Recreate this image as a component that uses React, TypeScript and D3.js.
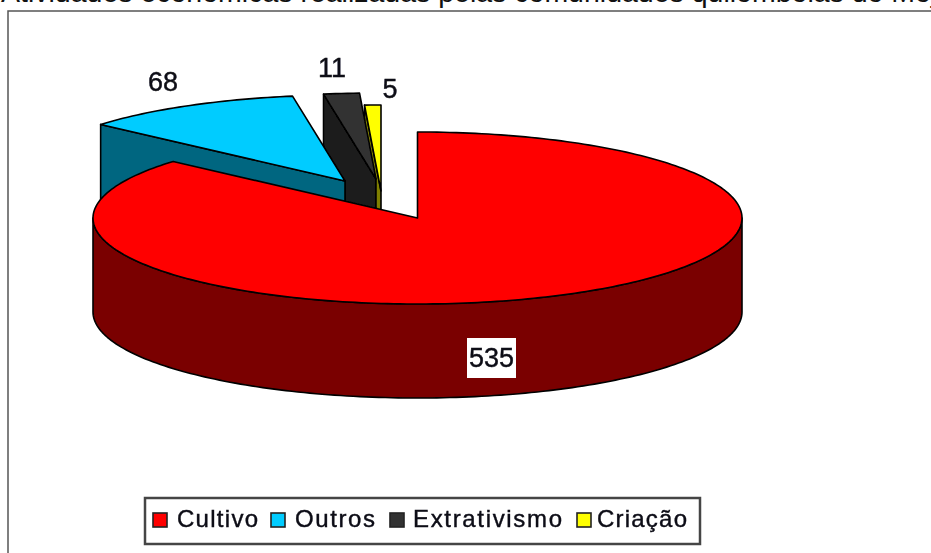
import React from "react";
import * as d3 from "d3";

const categories = ["Cultivo", "Outros", "Extrativismo", "Criação"];
const values = [535, 68, 11, 5];
const topColors = ["#ff0000", "#00ccff", "#333333", "#ffff00"];
const wallColors = ["#7a0000", "#006680", "#1c1c1c", "#808000"];
const centers: [number, number][] = [[417.5, 218], [345, 181], [376, 179], [381, 191]];
const labelPos: [number, number][] = [[491.5, 367], [163, 91], [332, 77], [390, 98]];
const legendSwatchX = [153, 271, 390, 577];
const legendTextX = [177, 295, 413, 597];
const legendTextW = [81, 80, 149, 90];
const title = "Atividades econômicas realizadas pelas comunidades quilombolas do Moju";

const RX = 324.5, RY = 86, DEPTH = 94;
const FONT = "'Liberation Sans', Arial, sans-serif";

const pie = d3.pie<number>().sort(null).startAngle(0).endAngle(2 * Math.PI);
const arcs = pie(values);

function pt(c: [number, number], a: number, dy = 0): [number, number] {
  return [c[0] + RX * Math.sin(a), c[1] - RY * Math.cos(a) + dy];
}
const line = d3.line();
function samples(a0: number, a1: number, c: [number, number], dy = 0) {
  const n = Math.max(2, Math.ceil(Math.abs(a1 - a0) / 0.02));
  return d3.range(n + 1).map((i) => pt(c, a0 + ((a1 - a0) * i) / n, dy));
}

export default function App() {
  const order = [3, 2, 1, 0];
  return (
    <svg width={931} height={553} style={{ position: "absolute", left: 0, top: 0, background: "#fff" }} fontFamily={FONT}>
      <defs>
        <filter id="soft" x="-5%" y="-5%" width="110%" height="110%">
          <feGaussianBlur stdDeviation="0.55" />
        </filter>
      </defs>
      <text x={1} y={2} fontSize={28.5} fill="#111">{title}</text>
      <path d="M8,553 V11 H931" fill="none" stroke="#555" strokeWidth={1.5} />
      <g filter="url(#soft)">
        {order.map((i) => {
          const d = arcs[i];
          const c = centers[i];
          const a0 = d.startAngle, a1 = d.endAngle;
          const top = [c, ...samples(a0, a1, c)] as [number, number][];
          const wall: [number, number][] =
            i === 0
              ? [...samples(Math.PI / 2, (3 * Math.PI) / 2, c), ...samples((3 * Math.PI) / 2, Math.PI / 2, c, DEPTH)]
              : [pt(c, a0), c, [c[0], c[1] + DEPTH], pt(c, a0, DEPTH)];
          return (
            <g key={categories[i]} stroke="#000" strokeWidth={1.6} strokeLinejoin="round">
              <path d={line(wall)! + "Z"} fill={wallColors[i]} />
              <path d={line(top)! + "Z"} fill={topColors[i]} />
            </g>
          );
        })}
        <rect x={467} y={338} width={49} height={40} fill="#fff" />
        {values.map((v, i) => (
          <text key={i} x={labelPos[i][0]} y={labelPos[i][1]} textAnchor="middle" fontSize={27} fill="#0a0a14" stroke="#0a0a14" strokeWidth={0.4}>{v}</text>
        ))}
        <rect x={145} y={498} width={555} height={46} fill="#fff" stroke="#444" strokeWidth={2.5} />
        {categories.map((cat, i) => (
          <g key={cat}>
            <rect x={legendSwatchX[i]} y={513} width={14} height={14} fill={topColors[i]} stroke="#222" strokeWidth={1.6} />
            <text x={legendTextX[i]} y={527} fontSize={24} fill="#0a0a14" stroke="#0a0a14" strokeWidth={0.4} textLength={legendTextW[i]} lengthAdjust="spacing">{cat}</text>
          </g>
        ))}
      </g>
    </svg>
  );
}
